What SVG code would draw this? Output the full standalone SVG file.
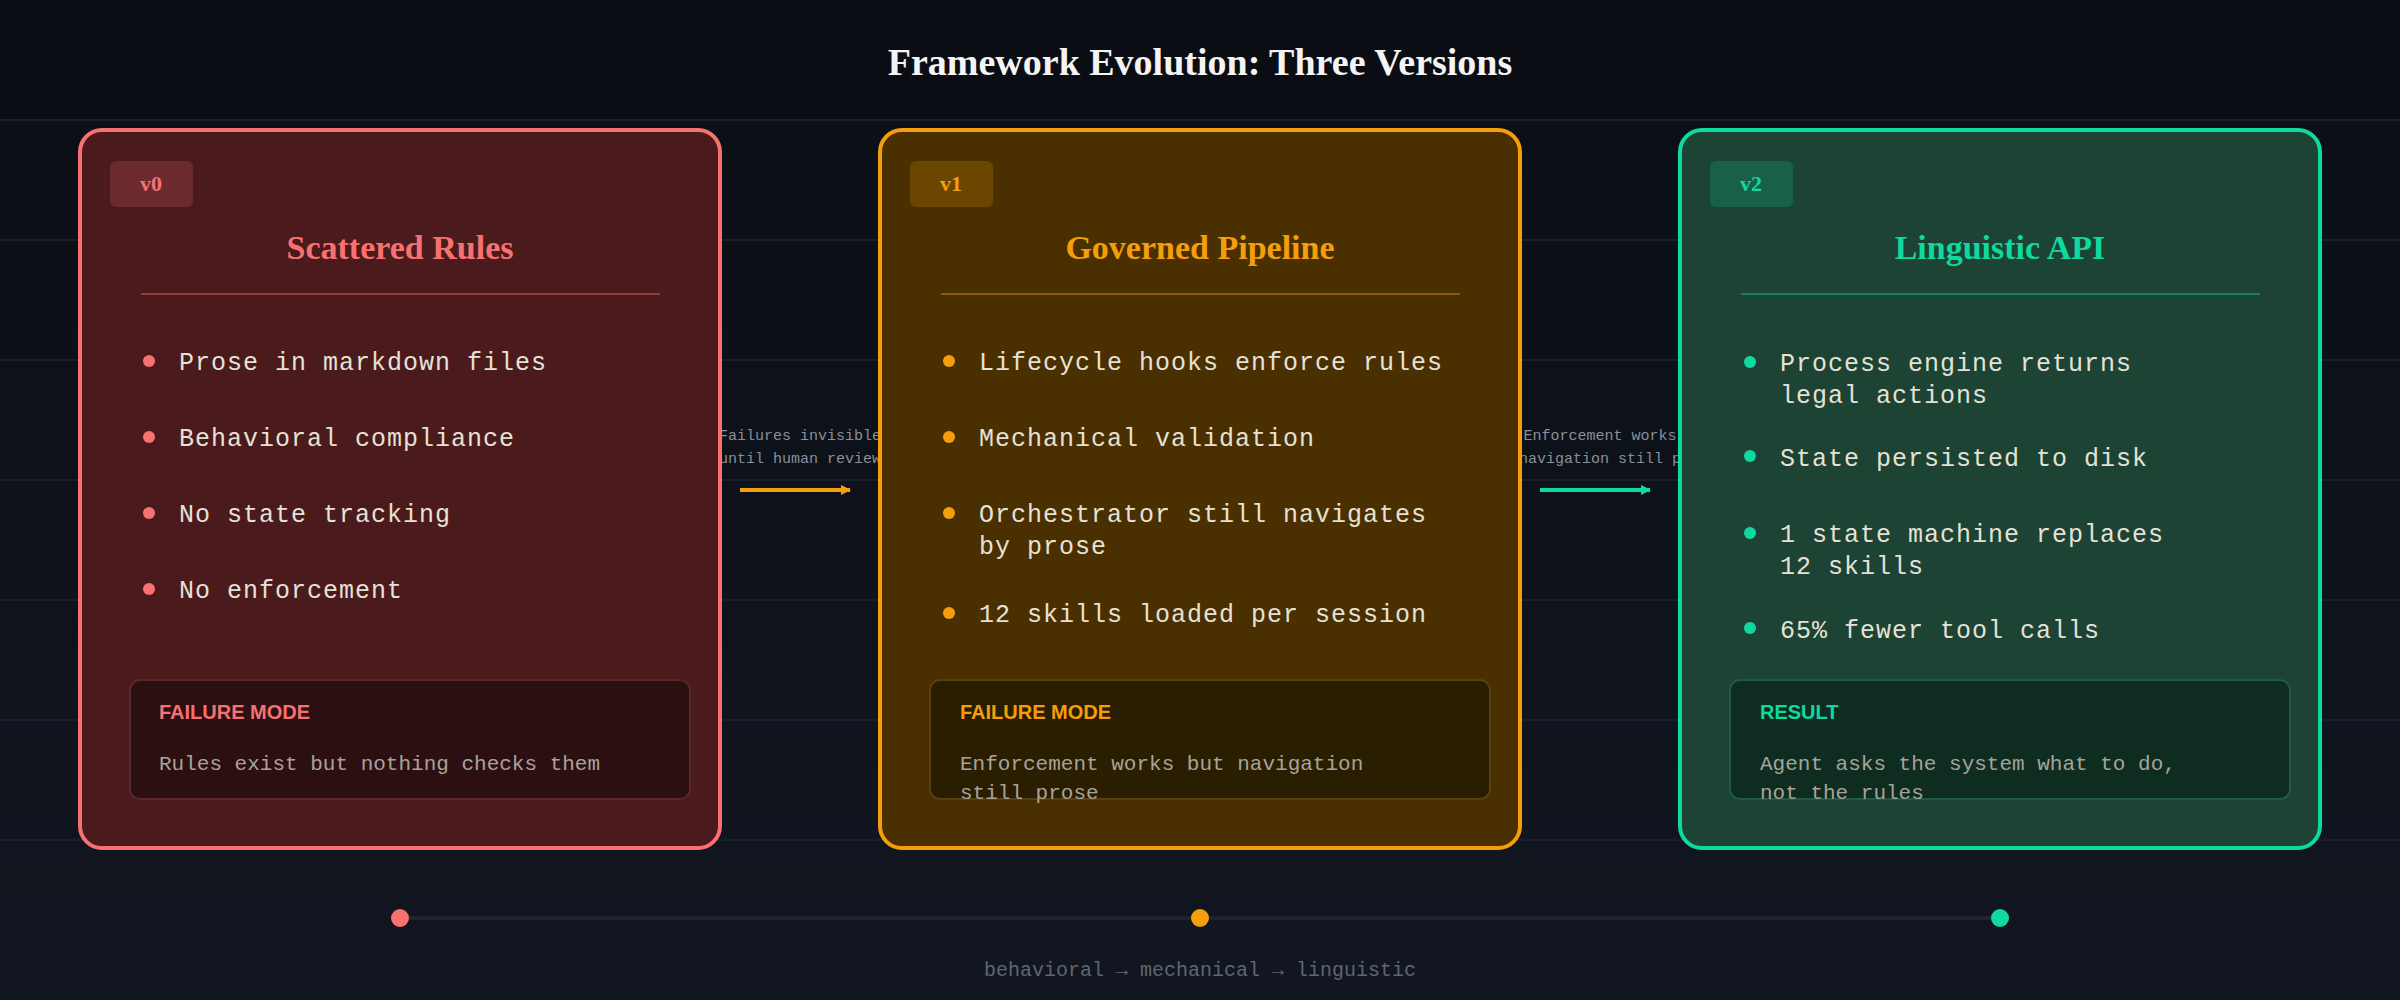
<svg xmlns="http://www.w3.org/2000/svg" width="2400" height="1000" viewBox="0 0 2400 1000">
<defs>
<linearGradient id="bg" x1="0" y1="0" x2="0" y2="1"><stop offset="0" stop-color="#0a0e15"/><stop offset="1" stop-color="#111620"/></linearGradient>
<marker id="ahO" markerWidth="10" markerHeight="10" refX="9" refY="5" orient="auto" markerUnits="userSpaceOnUse" viewBox="0 0 10 10"><path d="M0,0 L10,5 L0,10 z" fill="#f59e0b"/></marker>
<marker id="ahG" markerWidth="10" markerHeight="10" refX="9" refY="5" orient="auto" markerUnits="userSpaceOnUse" viewBox="0 0 10 10"><path d="M0,0 L10,5 L0,10 z" fill="#10d9a0"/></marker>
<style>
.title{font-family:"Liberation Serif",serif;font-weight:bold;font-size:38px;fill:#f4f4f4}
.badge{font-family:"Liberation Serif",serif;font-weight:bold;font-size:22px}
.ctitle{font-family:"Liberation Serif",serif;font-weight:bold;font-size:34px}
.item{font-family:"Liberation Mono",monospace;font-size:25px;fill:#e6e1d6;letter-spacing:1px}
.lab{font-family:"Liberation Sans","Open Sans",sans-serif;font-weight:bold;font-size:20px}
.desc{font-family:"Liberation Mono",monospace;font-size:21px;fill:#a8a39a}
.conn{font-family:"Liberation Mono",monospace;font-size:15px;fill:#8a8f98}
.cap{font-family:"Liberation Mono",monospace;font-size:20px;fill:#5f6672}
.grid{stroke:#1a202a;stroke-width:2}
</style>
</defs>
<rect width="2400" height="1000" fill="url(#bg)"/>
<rect width="2400" height="120" fill="#0a0d13"/>
<g class="grid"><line x1="0" y1="120" x2="2400" y2="120"/><line x1="0" y1="240" x2="2400" y2="240"/><line x1="0" y1="360" x2="2400" y2="360"/><line x1="0" y1="480" x2="2400" y2="480"/><line x1="0" y1="600" x2="2400" y2="600"/><line x1="0" y1="720" x2="2400" y2="720"/><line x1="0" y1="840" x2="2400" y2="840"/></g>
<text class="title" x="1200" y="75" text-anchor="middle">Framework Evolution: Three Versions</text>
<g id="connectors">
<text class="conn" x="800" y="440" text-anchor="middle">Failures invisible</text>
<text class="conn" x="800" y="463" text-anchor="middle">until human review</text>
<line x1="740" y1="490" x2="850" y2="490" stroke="#f59e0b" stroke-width="4" marker-end="url(#ahO)"/>
<text class="conn" x="1600" y="440" text-anchor="middle">Enforcement works</text>
<text class="conn" x="1600" y="463" text-anchor="middle">but navigation still prose</text>
<line x1="1540" y1="490" x2="1650" y2="490" stroke="#10d9a0" stroke-width="4" marker-end="url(#ahG)"/>
</g>
<g id="v0">
<rect x="80" y="130" width="640" height="718" rx="22" fill="#4a1a1c" stroke="#f87171" stroke-width="4"/>
<rect x="110" y="161" width="83" height="46" rx="6" fill="#6b2a2e"/>
<text class="badge" x="151" y="191" text-anchor="middle" fill="#f87171">v0</text>
<text class="ctitle" x="400" y="259" text-anchor="middle" fill="#f87171">Scattered Rules</text>
<line x1="141" y1="294" x2="660" y2="294" stroke="#f87171" stroke-opacity="0.4" stroke-width="2"/>
<g fill="#f87171"><circle cx="149" cy="361" r="6"/><circle cx="149" cy="437" r="6"/><circle cx="149" cy="513" r="6"/><circle cx="149" cy="589" r="6"/></g>
<text class="item" x="179" y="370">Prose in markdown files</text>
<text class="item" x="179" y="446">Behavioral compliance</text>
<text class="item" x="179" y="522">No state tracking</text>
<text class="item" x="179" y="598">No enforcement</text>
<rect x="130" y="680" width="560" height="119" rx="10" fill="#2c0f11" stroke="#5a2628" stroke-width="2"/>
<text class="lab" x="159" y="719" fill="#f87171">FAILURE MODE</text>
<text class="desc" x="159" y="770">Rules exist but nothing checks them</text>
</g>
<g id="v1">
<rect x="880" y="130" width="640" height="718" rx="22" fill="#4a3000" stroke="#f59e0b" stroke-width="4"/>
<rect x="910" y="161" width="83" height="46" rx="6" fill="#6a4600"/>
<text class="badge" x="951" y="191" text-anchor="middle" fill="#f59e0b">v1</text>
<text class="ctitle" x="1200" y="259" text-anchor="middle" fill="#f59e0b">Governed Pipeline</text>
<line x1="941" y1="294" x2="1460" y2="294" stroke="#f59e0b" stroke-opacity="0.4" stroke-width="2"/>
<g fill="#f59e0b"><circle cx="949" cy="361" r="6"/><circle cx="949" cy="437" r="6"/><circle cx="949" cy="513" r="6"/><circle cx="949" cy="613" r="6"/></g>
<text class="item" x="979" y="370">Lifecycle hooks enforce rules</text>
<text class="item" x="979" y="446">Mechanical validation</text>
<text class="item" x="979" y="522">Orchestrator still navigates</text>
<text class="item" x="979" y="554">by prose</text>
<text class="item" x="979" y="622">12 skills loaded per session</text>
<rect x="930" y="680" width="560" height="119" rx="10" fill="#2a1e00" stroke="#5a4010" stroke-width="2"/>
<text class="lab" x="960" y="719" fill="#f59e0b">FAILURE MODE</text>
<text class="desc" x="960" y="770">Enforcement works but navigation</text>
<text class="desc" x="960" y="799">still prose</text>
</g>
<g id="v2">
<rect x="1680" y="130" width="640" height="718" rx="22" fill="#1c4333" stroke="#10d9a0" stroke-width="4"/>
<rect x="1710" y="161" width="83" height="46" rx="6" fill="#1a6048"/>
<text class="badge" x="1751" y="191" text-anchor="middle" fill="#10d9a0">v2</text>
<text class="ctitle" x="2000" y="259" text-anchor="middle" fill="#10d9a0">Linguistic API</text>
<line x1="1741" y1="294" x2="2260" y2="294" stroke="#10d9a0" stroke-opacity="0.4" stroke-width="2"/>
<g fill="#10d9a0"><circle cx="1750" cy="362" r="6"/><circle cx="1750" cy="456" r="6"/><circle cx="1750" cy="533" r="6"/><circle cx="1750" cy="628" r="6"/></g>
<text class="item" x="1780" y="371">Process engine returns</text>
<text class="item" x="1780" y="403">legal actions</text>
<text class="item" x="1780" y="466">State persisted to disk</text>
<text class="item" x="1780" y="542">1 state machine replaces</text>
<text class="item" x="1780" y="574">12 skills</text>
<text class="item" x="1780" y="638">65% fewer tool calls</text>
<rect x="1730" y="680" width="560" height="119" rx="10" fill="#0e2d20" stroke="#1f5a44" stroke-width="2"/>
<text class="lab" x="1760" y="719" fill="#10d9a0">RESULT</text>
<text class="desc" x="1760" y="770" fill="#c8c8c0">Agent asks the system what to do,</text>
<text class="desc" x="1760" y="799" fill="#c8c8c0">not the rules</text>
</g>
<g id="timeline">
<line x1="400" y1="918" x2="2000" y2="918" stroke="#1e2530" stroke-width="4"/>
<circle cx="400" cy="918" r="9" fill="#f87171"/>
<circle cx="1200" cy="918" r="9" fill="#f59e0b"/>
<circle cx="2000" cy="918" r="9" fill="#10d9a0"/>
<text class="cap" x="1200" y="976" text-anchor="middle">behavioral → mechanical → linguistic</text>
</g>
</svg>
